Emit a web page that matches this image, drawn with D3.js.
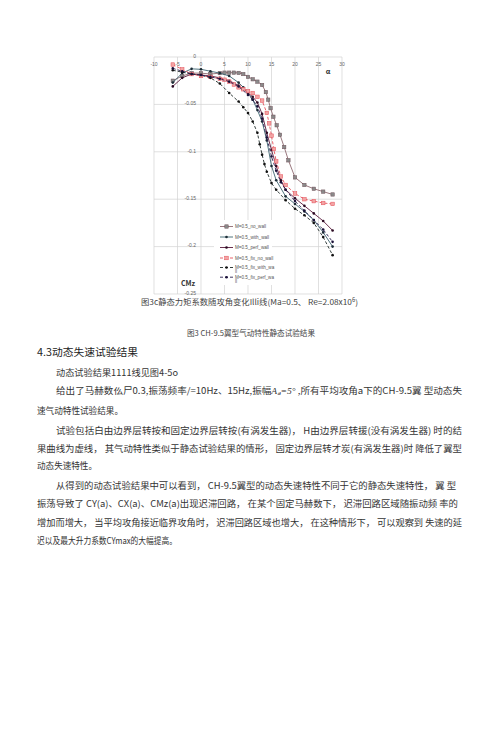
<!DOCTYPE html>
<html lang="zh">
<head>
<meta charset="UTF-8">
<title>CH-9.5 静态力矩系数</title>
<script src="https://d3js.org/d3.v7.min.js"></script>
<style>
  body { margin: 0; background: #fff; }
  svg text { font-family: "Noto Sans CJK SC", "Noto Sans", sans-serif; }
  .tick-label { font-family: Arial, "Liberation Sans", sans-serif; font-size: 5px; fill: #666; }
  .legend-label { font-family: Arial, "Liberation Sans", sans-serif; font-size: 4.6px; fill: #555; }
  .body-line { font-size: 8.8px; fill: #333; }
</style>
</head>
<body>
<div id="page"></div>
<script>
// ---- données ----
const xTicks = [-10, -5, 0, 5, 10, 15, 20, 25, 30];
const yTicks = [0, -0.05, -0.1, -0.15, -0.2, -0.25];
const yTickLabels = ["0", "-0.05", "-0.1", "-0.15", "-0.2", "-0.25"];

const seriesNames = ["M=0.5_no_wall", "M=0.5_with_wall", "M=0.5_perf_wall",
                     "M=0.5_fix_no_wall", "M=0.5_fix_with_wall", "M=0.5_fix_perf_wall"];

const alphaNoWall = [-6, -4, -2, 0, 2, 4, 5, 6, 7, 8, 9, 10, 11, 12, 13, 13.8, 14.3, 14.8, 15.4, 16.1, 16.8, 17.7, 18.6, 20, 22, 24, 26, 28];
const cmzNoWall = [-0.025, -0.020, -0.017, -0.017, -0.018, -0.017, -0.0165, -0.0165, -0.0165, -0.0168, -0.018, -0.021, -0.0235, -0.026, -0.0295, -0.037, -0.045, -0.054, -0.063, -0.072, -0.082, -0.095, -0.109, -0.127, -0.135, -0.139, -0.142, -0.145];

const alphaWithWall = [-6, -4, -2, 0, 2, 4, 6, 8, 9, 10, 11, 12, 13, 14, 15, 16, 18, 20, 22, 24, 26, 28];
const cmzWithWall = [-0.027, -0.017, -0.0125, -0.013, -0.015, -0.017, -0.020, -0.027, -0.032, -0.038, -0.045, -0.056, -0.068, -0.088, -0.115, -0.130, -0.147, -0.155, -0.163, -0.172, -0.185, -0.200];

const alphaPerfWall = [-6, -4, -2, 0, 2, 4, 6, 8, 10, 11, 12, 13, 14, 15, 16, 17, 18, 20, 22, 24, 26, 28];
const cmzPerfWall = [-0.031, -0.022, -0.018, -0.019, -0.020, -0.022, -0.025, -0.030, -0.038, -0.042, -0.048, -0.060, -0.080, -0.098, -0.115, -0.130, -0.140, -0.149, -0.157, -0.165, -0.173, -0.183];

const alphaFixNoWall = [-6, -4, -2, 0, 2, 4, 5, 6, 7, 8, 9, 10, 11, 12, 13, 14, 14.5, 15, 15.5, 16, 17, 18, 20, 22, 24, 26, 28];
const cmzFixNoWall = [-0.008, -0.013, -0.018, -0.020, -0.021, -0.023, -0.024, -0.026, -0.029, -0.032, -0.034, -0.036, -0.038, -0.042, -0.046, -0.059, -0.070, -0.083, -0.097, -0.110, -0.126, -0.135, -0.144, -0.150, -0.152, -0.154, -0.155];

const alphaFixWithWall = [-6, -4, -2, 0, 2, 4, 6, 8, 9, 10, 11, 12, 12.5, 13, 13.5, 14, 15, 16, 18, 20, 22, 24, 26, 28];
const cmzFixWithWall = [-0.014, -0.016, -0.018, -0.019, -0.022, -0.028, -0.038, -0.047, -0.053, -0.059, -0.068, -0.080, -0.092, -0.103, -0.113, -0.121, -0.133, -0.140, -0.151, -0.160, -0.167, -0.175, -0.190, -0.209];

const alphaFixPerfWall = [-6, -4, -2, 0, 2, 4, 6, 8, 10, 11, 12, 13, 14, 15, 16, 17, 18, 20, 22, 24, 26, 28];
const cmzFixPerfWall = [-0.012, -0.015, -0.018, -0.019, -0.021, -0.023, -0.026, -0.031, -0.040, -0.045, -0.052, -0.065, -0.085, -0.105, -0.120, -0.132, -0.140, -0.152, -0.162, -0.172, -0.182, -0.195];

// styles des séries
const styles = [
  { line: "#8f6a70", dash: null,  marker: "square", fill: "#8a8a8a", stroke: "#6e5058", size: 3.4 },
  { line: "#3d6470", dash: null,  marker: "dot",    fill: "#1c2c36", stroke: "#1c2c36", size: 1.3 },
  { line: "#5a1a3c", dash: null,  marker: "dot",    fill: "#2a0a22", stroke: "#2a0a22", size: 1.3 },
  { line: "#e5505a", dash: "3,2", marker: "square", fill: "#f2a4a4", stroke: "#e5505a", size: 3.6 },
  { line: "#1e2a28", dash: "3,2", marker: "dot",    fill: "#111",    stroke: "#111",    size: 1.3 },
  { line: "#2a2050", dash: "3,2", marker: "dot",    fill: "#1a1038", stroke: "#1a1038", size: 1.3 }
];

const series = [
  [alphaNoWall, cmzNoWall],
  [alphaWithWall, cmzWithWall],
  [alphaPerfWall, cmzPerfWall],
  [alphaFixNoWall, cmzFixNoWall],
  [alphaFixWithWall, cmzFixWithWall],
  [alphaFixPerfWall, cmzFixPerfWall]
];

// ---- dessin ----
const width = 500, height = 739;
const svg = d3.select("#page").append("svg")
  .attr("width", width).attr("height", height);

svg.append("rect").attr("width", width).attr("height", height).attr("fill", "#fff");

const x = d3.scaleLinear().domain([-10, 30]).range([154, 342]);
const y = d3.scaleLinear().domain([0, -0.25]).range([57, 294]);

// grille
svg.append("g").selectAll("line").data(xTicks).join("line")
  .attr("x1", d => x(d)).attr("x2", d => x(d))
  .attr("y1", y(0)).attr("y2", y(-0.25))
  .attr("stroke", "#d2d2d2").attr("stroke-width", 0.7);
svg.append("g").selectAll("line").data(yTicks).join("line")
  .attr("x1", x(-10)).attr("x2", x(30))
  .attr("y1", d => y(d)).attr("y2", d => y(d))
  .attr("stroke", "#d2d2d2").attr("stroke-width", 0.7);

// étiquettes des axes
svg.append("g").selectAll("text").data(xTicks).join("text")
  .attr("class", "tick-label")
  .attr("x", d => x(d)).attr("y", y(0) + 9)
  .attr("text-anchor", "middle")
  .text(d => d);
svg.append("g").selectAll("text").data(yTicks).join("text")
  .attr("class", "tick-label")
  .attr("x", x(0) - 5).attr("y", d => y(d) + 0.8)
  .attr("text-anchor", "end")
  .text((d, i) => yTickLabels[i]);

// courbes
const line = d3.line().x(d => x(d[0])).y(d => y(d[1]));
series.forEach(([a, c], i) => {
  const st = styles[i];
  const pts = a.map((v, k) => [v, c[k]]);
  svg.append("path")
    .datum(pts)
    .attr("d", line)
    .attr("fill", "none")
    .attr("stroke", st.line)
    .attr("stroke-width", 0.9)
    .attr("stroke-dasharray", st.dash);
  const g = svg.append("g");
  if (st.marker === "square") {
    g.selectAll("rect").data(pts).join("rect")
      .attr("x", d => x(d[0]) - st.size / 2).attr("y", d => y(d[1]) - st.size / 2)
      .attr("width", st.size).attr("height", st.size)
      .attr("fill", st.fill).attr("stroke", st.stroke).attr("stroke-width", 0.5);
  } else {
    g.selectAll("circle").data(pts).join("circle")
      .attr("cx", d => x(d[0])).attr("cy", d => y(d[1]))
      .attr("r", st.size).attr("fill", st.fill);
  }
});

// légende
const leg = svg.append("g");
leg.append("rect").attr("x", 214).attr("y", 220).attr("width", 58).attr("height", 65).attr("fill", "#fff");
const legY = [226.5, 237, 247.5, 258, 267.5, 277.2];
seriesNames.forEach((name, i) => {
  const st = styles[i];
  const ly = legY[i];
  leg.append("line").attr("x1", 220).attr("x2", 233).attr("y1", ly).attr("y2", ly)
    .attr("stroke", st.line).attr("stroke-width", 0.9).attr("stroke-dasharray", st.dash);
  if (st.marker === "square") {
    leg.append("rect").attr("x", 226.5 - st.size / 2).attr("y", ly - st.size / 2)
      .attr("width", st.size).attr("height", st.size)
      .attr("fill", st.fill).attr("stroke", st.stroke).attr("stroke-width", 0.5);
  } else {
    leg.append("circle").attr("cx", 226.5).attr("cy", ly).attr("r", st.size).attr("fill", st.fill);
  }
  const t = leg.append("text").attr("class", "legend-label").attr("x", 235).attr("y", ly + 1.6);
  if (name.length > 17) {
    t.append("tspan").text(name.slice(0, 17));
    t.append("tspan").attr("x", 235).attr("dy", 3.7).text(name.slice(17));
  } else {
    t.text(name);
  }
});

// titres d'axes
svg.append("text").attr("x", 188).attr("y", 285.5).attr("text-anchor", "middle")
  .attr("font-family", "Arial, 'Liberation Sans', sans-serif")
  .attr("font-size", 7).attr("font-weight", "bold").attr("fill", "#333").text("CMz");
svg.append("text").attr("x", 328).attr("y", 73.5).attr("text-anchor", "middle")
  .attr("font-family", "Arial, 'Liberation Sans', sans-serif")
  .attr("font-size", 7).attr("font-weight", "bold").attr("fill", "#333").text("α");

// légendes de figure
const cap1 = svg.append("text").attr("x", 141).attr("y", 305)
  .attr("font-size", 8).attr("fill", "#444")
  .attr("textLength", 217).attr("lengthAdjust", "spacingAndGlyphs");
cap1.append("tspan").text("图3c静态力矩系数随攻角变化Illi线(Ma=0.5、 Re=2.08x10");
cap1.append("tspan").attr("font-size", 5.5).attr("dy", -3).text("6");
cap1.append("tspan").attr("dy", 3).text(")");

svg.append("text").attr("x", 187).attr("y", 336)
  .attr("font-size", 7.8).attr("fill", "#444")
  .attr("textLength", 128).attr("lengthAdjust", "spacingAndGlyphs")
  .text("图3 CH-9.5翼型气动特性静态试验结果");

// texte du document
svg.append("text").attr("x", 37).attr("y", 355.5)
  .attr("font-size", 10).attr("fill", "#222")
  .attr("textLength", 101).attr("lengthAdjust", "spacingAndGlyphs")
  .text("4.3动态失速试验结果");

const bodyLines = [
  { x: 56, y: 375.5, len: 122, text: "动态试验结果1111线见图4-5o" },
  { x: 56, y: 393.5, len: 406, rich: true },
  { x: 37, y: 413.5, len: 86, text: "速气动特性试验结果。" },
  { x: 56, y: 433.5, len: 406, text: "试验包括白由边界层转按和固定边界层转按(有涡发生器)， H由边界层转援(没有涡发生器) 时的结" },
  { x: 37, y: 451.5, len: 425, text: "果曲线为虚线， 其气动特性类似于静态试验结果的情形， 固定边界层转才炭(有涡发生器)时 降低了翼型" },
  { x: 37, y: 468.5, len: 60, text: "动态失速特性。" },
  { x: 56, y: 488.5, len: 400, text: "从得到的动态试验结果中可以看到， CH-9.5翼型的动态失速特性不同于它的静态失速特性， 翼 型" },
  { x: 37, y: 506.5, len: 421, text: "振荡导致了 CY(a)、CX(a)、CMz(a)出现迟滞回路， 在某个固定马赫数下， 迟滞回路区域随振动频 率的" },
  { x: 37, y: 525.5, len: 425, text: "增加而增大， 当平均攻角接近临界攻角时， 迟滞回路区域也增大， 在这种情形下， 可以观察到 失速的延" },
  { x: 37, y: 543.5, len: 140, text: "迟以及最大升力系数CYmax的大幅提高。" }
];

bodyLines.forEach(l => {
  const t = svg.append("text").attr("class", "body-line")
    .attr("x", l.x).attr("y", l.y)
    .attr("textLength", l.len).attr("lengthAdjust", "spacingAndGlyphs");
  if (l.rich) {
    t.append("tspan").text("给出了马赫数仫尸0.3,振荡频率/=10Hz、15Hz,振幅");
    t.append("tspan").attr("font-style", "italic").attr("font-family", "'Liberation Serif', serif").text("A");
    t.append("tspan").attr("font-size", 5.5).attr("dy", 1.5).attr("font-style", "italic").text("a");
    t.append("tspan").attr("dy", -1.5).attr("font-style", "italic").attr("font-family", "'Liberation Serif', serif").text("=5°");
    t.append("tspan").text(" ,所有平均攻角a下的CH-9.5翼 型动态失");
  } else {
    t.text(l.text);
  }
});
</script>
</body>
</html>
